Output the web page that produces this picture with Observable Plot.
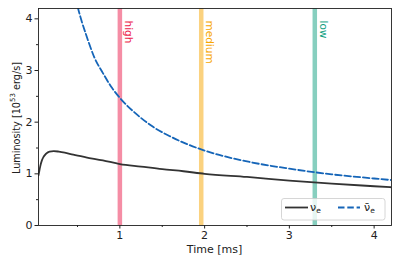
<!DOCTYPE html>
<html><head><meta charset="utf-8">
<script src="https://cdn.jsdelivr.net/npm/d3@7"></script>
<script src="https://cdn.jsdelivr.net/npm/@observablehq/plot@0.6"></script>
<style>body{margin:0;background:#fff}</style>
</head><body><div id="chart"></div>
<script>
// ν_e luminosity
const nueT = [0.04,0.05,0.06,0.08,0.10,0.13,0.17,0.22,0.28,0.35,0.45,0.6,0.8,1.0,1.25,1.5,1.75,2.0,2.5,3.0,3.5,4.0,4.2];
const nueL = [0.97,1.06,1.14,1.26,1.33,1.39,1.43,1.44,1.43,1.41,1.37,1.32,1.26,1.19,1.14,1.09,1.05,1.00,0.94,0.87,0.81,0.76,0.74];
// anti-ν_e luminosity
const anueT = [0.48,0.5,0.55,0.6,0.7,0.8,0.9,1.0,1.2,1.4,1.6,1.8,2.0,2.5,3.0,3.5,4.0,4.2];
const anueL = [4.4,4.25,3.95,3.7,3.25,2.95,2.68,2.47,2.15,1.9,1.72,1.57,1.45,1.24,1.10,0.99,0.91,0.88];
// marked times
const bandNames = ["high","medium","low"];
const bandTimes = [1.0, 1.96, 3.3];
const xMajor = [1,2,3,4], xMinor = [0.5,1.5,2.5,3.5];
const yMajor = [0,1,2,3,4], yMinor = [0.5,1.5,2.5,3.5];

const nue = nueT.map((t,i)=>({t, L:nueL[i]}));
const anue = anueT.map((t,i)=>({t, L:anueL[i]}));
const bands = bandNames.map((name,i)=>({name, t:bandTimes[i]}));

const ff = "'DejaVu Sans', sans-serif";
const W = 399, H = 261, mL = 38, mR = 8, mT = 8, mB = 36;
const plot = Plot.plot({
  width: W, height: H,
  marginLeft: mL, marginRight: mR, marginTop: mT, marginBottom: mB,
  style: {fontFamily: ff, fontSize: "11px", color: "#222", background: "#fff"},
  x: {domain: [0.04, 4.205]},
  y: {domain: [0, 4.2]},
  color: {domain: bandNames, range: ["#ec1b4b", "#f7a600", "#0fa07f"]},
  marks: [
    Plot.ruleX(bands, {x: "t", stroke: "name", strokeWidth: 4.5, strokeOpacity: 0.5}),
    Plot.text(bands, {x: "t", text: "name", frameAnchor: "top", rotate: 90, textAnchor: "start",
      lineAnchor: "bottom", dx: 5, dy: 12, fill: "name", fontSize: 10.5}),
    Plot.line(nue, {x: "t", y: "L", stroke: "#333", strokeWidth: 1.8, curve: "monotone-x", clip: true}),
    Plot.line(anue, {x: "t", y: "L", stroke: "#1565b8", strokeWidth: 1.8, strokeDasharray: "6.5,2.8", curve: "monotone-x", clip: true}),
    Plot.axisX({ticks: xMajor, tickSize: 3.5, tickPadding: 2.5, label: null, tickFormat: d3.format("d"), fontSize: 11}),
    Plot.axisX({ticks: xMinor, tickSize: 2, tickFormat: () => "", label: null}),
    Plot.axisY({ticks: yMajor, tickSize: 3.5, tickPadding: 2.5, label: null, tickFormat: d3.format("d"), fontSize: 11}),
    Plot.axisY({ticks: yMinor, tickSize: 2, tickFormat: () => "", label: null}),
    Plot.frame({stroke: "#222", strokeWidth: 0.9})
  ]
});
document.getElementById("chart").appendChild(plot);

const svg = d3.select(plot);
// x label
svg.append("text").attr("x", (mL + W - mR) / 2).attr("y", 252.7)
  .attr("text-anchor", "middle").attr("font-family", ff).attr("font-size", 11).attr("fill", "#222")
  .text("Time [ms]");
// y label
const yl = svg.append("text").attr("transform", `translate(20,118) rotate(-90)`)
  .attr("text-anchor", "middle").attr("font-family", ff).attr("font-size", 9.7).attr("fill", "#222");
yl.append("tspan").text("Luminosity [10");
yl.append("tspan").attr("dy", -5).attr("font-size", 7).text("53");
yl.append("tspan").attr("dy", 5).text(" erg/s]");

// legend
const lg = svg.append("g").attr("font-family", ff).attr("font-size", 11).attr("fill", "#222");
lg.append("rect").attr("x", 281.5).attr("y", 198.5).attr("width", 103.5).attr("height", 21.5)
  .attr("rx", 2.5).attr("fill", "#fff").attr("fill-opacity", 0.8).attr("stroke", "#ccc").attr("stroke-width", 0.8);
lg.append("line").attr("x1", 285).attr("x2", 308).attr("y1", 207.5).attr("y2", 207.5)
  .attr("stroke", "#333").attr("stroke-width", 1.8);
const t1 = lg.append("text").attr("x", 315.5).attr("y", 210.5);
t1.append("tspan").text("ν");
t1.append("tspan").attr("dy", 2.5).attr("font-size", 7.5).text("e");
lg.append("line").attr("x1", 338).attr("x2", 360).attr("y1", 207.5).attr("y2", 207.5)
  .attr("stroke", "#1565b8").attr("stroke-width", 1.8).attr("stroke-dasharray", "6.5,2.8");
const t2 = lg.append("text").attr("x", 369.5).attr("y", 210.5);
t2.append("tspan").text("ν\u0304");
t2.append("tspan").attr("dy", 2.5).attr("font-size", 7.5).text("e");
</script>
</body></html>
